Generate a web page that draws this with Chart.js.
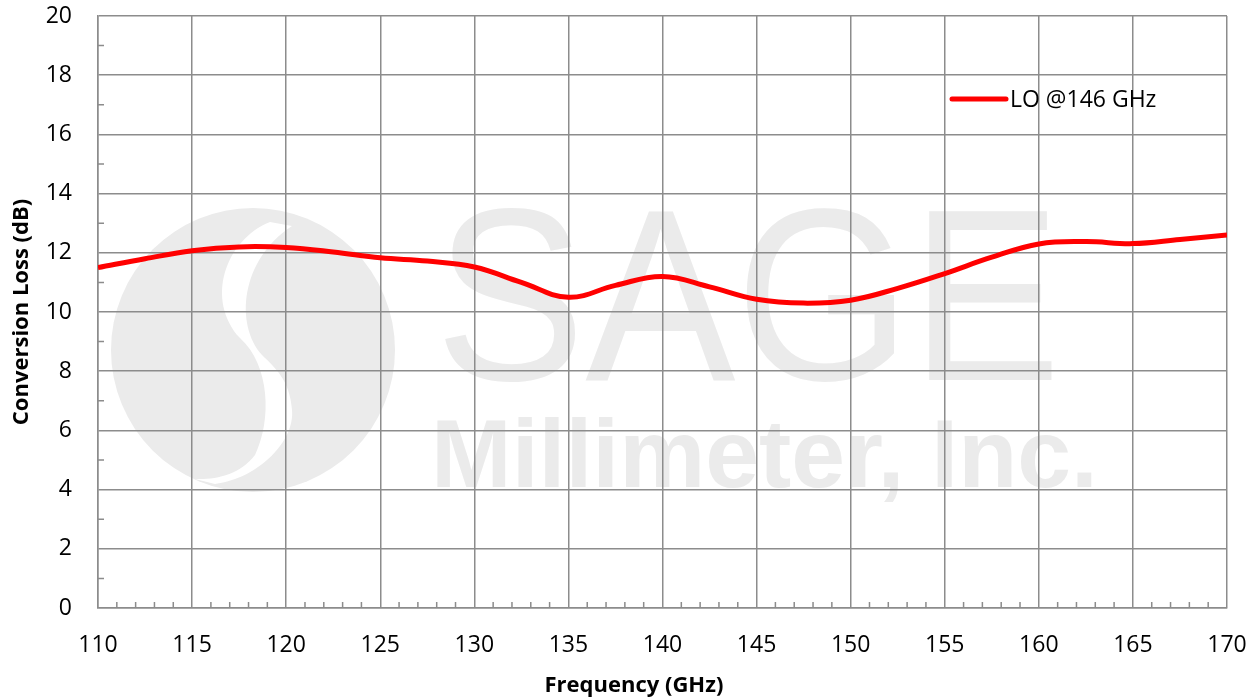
<!DOCTYPE html>
<html>
<head>
<meta charset="utf-8">
<script src="https://cdn.jsdelivr.net/npm/chart.js@4"></script>
<style>
  html, body { margin: 0; padding: 0; background: #fff; }
  #wrap { width: 1260px; height: 700px; }
</style>
</head>
<body>
<div id="wrap"><canvas id="lossChart" width="1260" height="700"></canvas></div>
<script>
// Conversion loss vs RF frequency
const freqGHz = [110, 112.5, 115, 117.5, 120, 122.5, 125, 127.5, 130, 132.5, 135, 137.5, 140,
                 142.5, 145, 147.5, 150, 152.5, 155, 157.5, 160, 162.5, 165, 167.5, 170];
const lossDb = [11.5, 11.8, 12.07, 12.2, 12.18, 12.03, 11.83, 11.72, 11.52, 11.0, 10.5, 10.9, 11.2,
                10.85, 10.43, 10.3, 10.4, 10.8, 11.3, 11.85, 12.3, 12.38, 12.31, 12.45, 12.6];
const seriesLabel = 'LO @146 GHz';

const gridColor = '#8c8c8c';
const tickFont = { family: 'Open Sans', size: 23 };
const titleFont = { family: 'Open Sans', size: 22, weight: 'bold' };

// light grey company watermark, drawn under the grid
const watermark = {
    id: 'watermark',
    beforeDraw(chart) {
        const { ctx } = chart;
        const grey = '#ebebeb';
        ctx.save();

        // round logo with a white S swirl
        ctx.beginPath();
        ctx.arc(253, 350, 142, 0, Math.PI * 2);
        ctx.fillStyle = grey;
        ctx.fill();
        ctx.clip();
        ctx.beginPath();
        ctx.moveTo(270, 222);
        ctx.bezierCurveTo(225, 240, 205, 300, 240, 338);
        ctx.bezierCurveTo(270, 365, 272, 420, 255, 455);
        ctx.bezierCurveTo(240, 475, 215, 480, 195, 479);
        ctx.lineTo(215, 484);
        ctx.bezierCurveTo(260, 478, 295, 440, 292, 410);
        ctx.bezierCurveTo(290, 380, 275, 368, 262, 355);
        ctx.bezierCurveTo(235, 325, 240, 260, 292, 226);
        ctx.closePath();
        ctx.fillStyle = '#fff';
        ctx.fill();
        ctx.restore();

        ctx.save();
        ctx.fillStyle = grey;
        ctx.textBaseline = 'alphabetic';
        ctx.textAlign = 'left';

        ctx.font = '245px "Liberation Sans"';
        let w = ctx.measureText('SAGE').width;
        ctx.save();
        ctx.translate(435, 380);
        ctx.scale(626 / w, 1);
        ctx.fillText('SAGE', 0, 0);
        ctx.restore();

        ctx.font = 'bold 96px "Liberation Sans"';
        w = ctx.measureText('Millimeter, Inc.').width;
        ctx.translate(431, 487);
        ctx.scale(667 / w, 1);
        ctx.fillText('Millimeter, Inc.', 0, 0);
        ctx.restore();
    }
};

// small inside minor ticks on both axes
const minorTicks = {
    id: 'minorTicks',
    afterDraw(chart) {
        const { ctx, chartArea: area, scales: { x, y } } = chart;
        ctx.save();
        ctx.strokeStyle = gridColor;
        ctx.lineWidth = 1.5;
        ctx.beginPath();
        for (let f = 111; f < 170; f++) {
            if (f % 5 === 0) continue;
            const px = x.getPixelForValue(f);
            ctx.moveTo(px, area.bottom);
            ctx.lineTo(px, area.bottom - 6);
        }
        for (let v = 1; v < 20; v += 2) {
            const py = y.getPixelForValue(v);
            ctx.moveTo(area.left, py);
            ctx.lineTo(area.left + 6, py);
        }
        ctx.stroke();
        ctx.restore();
    }
};

// legend inside plot, top right
const insideLegend = {
    id: 'insideLegend',
    afterDraw(chart) {
        const { ctx, chartArea: area } = chart;
        const ds = chart.data.datasets[0];
        const lx = area.right - 275;
        const ly = area.top + 83;
        ctx.save();
        ctx.strokeStyle = ds.borderColor;
        ctx.lineWidth = 5;
        ctx.lineCap = 'round';
        ctx.beginPath();
        ctx.moveTo(lx, ly);
        ctx.lineTo(lx + 54, ly);
        ctx.stroke();
        ctx.fillStyle = '#000';
        ctx.font = '23px "Open Sans"';
        ctx.textBaseline = 'middle';
        ctx.fillText(ds.label, lx + 58, ly + 1);
        ctx.restore();
    }
};

const ctx = document.getElementById('lossChart').getContext('2d');
new Chart(ctx, {
    type: 'line',
    data: {
        datasets: [{
            label: seriesLabel,
            data: freqGHz.map((f, i) => ({ x: f, y: lossDb[i] })),
            borderColor: '#ff0000',
            backgroundColor: '#ff0000',
            borderWidth: 5,
            pointRadius: 0,
            fill: false,
            tension: 0.4
        }]
    },
    options: {
        responsive: false,
        animation: false,
        layout: { padding: { left: 0, right: 33, top: 16, bottom: 0 } },
        scales: {
            x: {
                type: 'linear',
                min: 110,
                max: 170,
                ticks: { stepSize: 5, color: '#000', font: tickFont, padding: 24, maxRotation: 0 },
                grid: { color: gridColor, lineWidth: 1.5, drawTicks: false },
                border: { color: gridColor, width: 1.5 },
                // trailing spaces pull the title a little left of the plot centre, as in the source
                title: { display: true, text: 'Frequency (GHz)          ', color: '#000', font: titleFont, padding: { top: 0, bottom: 1 } },
                afterFit(scale) {
                    scale.height = 92;
                    scale.paddingLeft = 0;
                    scale.paddingRight = 0;
                }
            },
            y: {
                min: 0,
                max: 20,
                ticks: { stepSize: 2, color: '#000', font: tickFont, padding: 26 },
                grid: { color: gridColor, lineWidth: 1.5, drawTicks: false },
                border: { color: gridColor, width: 1.5 },
                title: { display: true, text: 'Conversion Loss (dB)', color: '#000', font: titleFont, padding: { top: 9, bottom: 0 } },
                afterFit(scale) {
                    scale.width = 98;
                    scale.paddingTop = 0;
                    scale.paddingBottom = 0;
                }
            }
        },
        plugins: {
            legend: { display: false },
            tooltip: { enabled: false }
        }
    },
    plugins: [watermark, minorTicks, insideLegend]
});
</script>
</body>
</html>
